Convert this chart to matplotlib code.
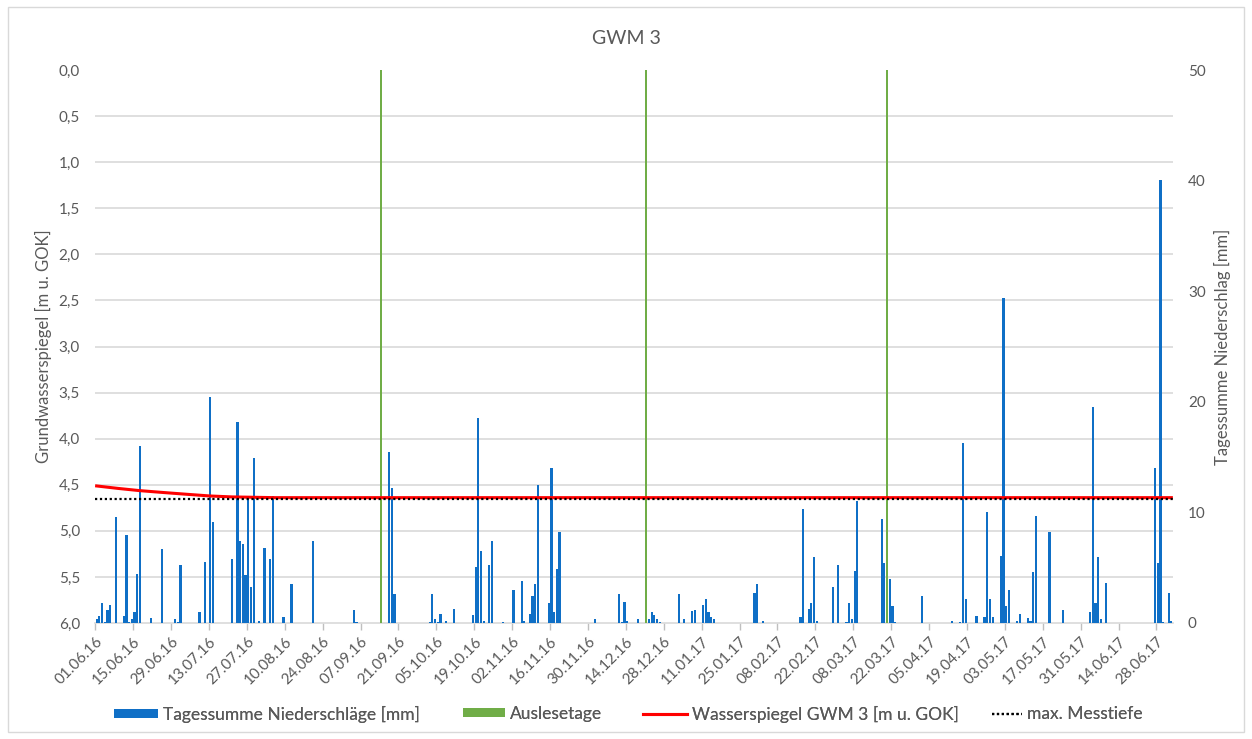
import numpy as np
import matplotlib
matplotlib.use("Agg")
import matplotlib.pyplot as plt
import matplotlib.dates as mdates
from matplotlib.ticker import FixedLocator, FuncFormatter
from matplotlib.patches import Rectangle
from matplotlib.lines import Line2D
from matplotlib.patches import Patch

plt.rcParams['font.family'] = ['Lato', 'DejaVu Sans']

start = np.datetime64('2016-06-01')
n_days = 398

# Daily precipitation: day offset from 01.06.16 and amount [mm]
rain_day = [0, 1, 2, 3, 4, 5, 7, 10, 11, 12, 13, 14, 15, 16, 20, 24, 29, 30, 31, 38,
            40, 42, 43, 50, 52, 53, 54, 55, 56, 57, 58, 60, 62, 64, 65, 69, 72, 80, 95, 96,
            108, 109, 110, 123, 124, 125, 126, 127, 129, 132, 139, 140, 141, 142, 143, 145, 146, 150, 154, 157,
            158, 160, 161, 162, 163, 167, 168, 169, 170, 171, 184, 193, 194, 195, 196, 200, 204, 205, 206, 207,
            208, 215, 217, 220, 221, 224, 225, 226, 227, 228, 243, 244, 246, 260, 261, 263, 264, 265, 266, 272,
            274, 277, 278, 279, 280, 281, 290, 291, 293, 294, 295, 305, 316, 319, 320, 321, 325, 328, 329, 330,
            331, 334, 335, 336, 337, 340, 341, 344, 345, 346, 347, 352, 357, 367, 368, 369, 370, 371, 373, 391,
            392, 393, 394, 396, 397]
rain_mm = [0.4, 0.6, 1.8, 0.1, 1.2, 1.6, 9.6, 0.6, 8.0, 0.1, 0.4, 1.0, 4.4, 16.0, 0.45, 6.7, 0.35, 0.1, 5.2, 1.0,
           5.5, 20.4, 9.1, 5.8, 18.2, 7.4, 7.1, 4.3, 11.5, 3.3, 14.9, 0.2, 6.8, 5.8, 11.5, 0.5, 3.5, 7.4, 1.2, 0.1,
           15.5, 12.2, 2.65, 0.1, 2.65, 0.4, 0.1, 0.8, 0.2, 1.3, 0.7, 5.1, 18.5, 6.5, 0.2, 5.2, 7.4, 0.1, 2.95, 3.8,
           0.2, 0.8, 2.4, 3.5, 12.45, 1.8, 14.0, 1.0, 4.85, 8.2, 0.4, 2.65, 0.1, 1.9, 0.2, 0.35, 0.4, 1.0, 0.7, 0.4,
           0.1, 2.6, 0.4, 1.1, 1.2, 1.6, 2.2, 1.0, 0.5, 0.35, 2.75, 3.5, 0.15, 0.5, 10.3, 1.3, 1.85, 6.0, 0.2, 3.25,
           5.25, 0.1, 1.85, 0.4, 4.7, 11.05, 9.4, 5.45, 3.95, 1.5, 0.1, 2.4, 0.2, 0.1, 16.25, 2.15, 0.6, 0.5, 10.0, 2.15,
           0.5, 6.05, 29.35, 1.55, 3.0, 0.2, 0.8, 0.45, 0.2, 4.6, 9.7, 8.2, 1.2, 1.0, 19.5, 1.8, 6.0, 0.35, 3.6, 14.05,
           5.45, 40.05, 0.1, 2.75, 0.15]

# Readout days (Auslesetage)
read_day = [105, 203, 292]
read_val = [50, 50, 50]

# Water level [m u. GOK]
level_day = [0, 8, 16, 25, 34, 42, 50, 58, 66, 397]
level_val = [4.513, 4.54, 4.564, 4.585, 4.605, 4.622, 4.632, 4.636, 4.64, 4.64]

# Maximum measuring depth
max_depth = 4.655

# Texts
title = "GWM 3"
left_label = "Grundwasserspiegel [m u. GOK]"
right_label = "Tagessumme Niederschlag [mm]"
legend_labels = ["Tagessumme Niederschläge [mm]", "Auslesetage",
                 "Wasserspiegel GWM 3 [m u. GOK]", "max. Messtiefe"]

TXT = '#595959'
BLUE = '#0F6FC6'
GREEN = '#70AD47'
RED = '#FF0000'
GRID = '#D9D9D9'
FS_TICK = 11
FS_LAB = 12
FS_LEG = 12.5
W, H = 1252, 739

def to_dt(d, off=0.0):
    return start + (np.asarray(d) * 24 * 3600 + off * 3600).astype('timedelta64[s]')

fig = plt.figure(figsize=(W / 100, H / 100), dpi=100)
fig.patches.append(Rectangle((8 / W, 1 - 732 / H), 1236 / W, 725 / H,
                             transform=fig.transFigure, fill=False,
                             edgecolor=GRID, linewidth=1.0))

L, R, T, B = 95.3, 1172.7, 70, 623
ax = fig.add_axes([L / W, 1 - B / H, (R - L) / W, (B - T) / H])
ax2 = ax.twinx()

# precipitation on host axis (drawn behind lines)
ax.bar(to_dt(rain_day, 12), rain_mm, width=0.8, color=BLUE, zorder=3)
ax.bar(to_dt(read_day, 12), read_val, width=0.8, color=GREEN, zorder=3)
ax.set_ylim(0, 50)
ax.yaxis.tick_right()
ax.yaxis.set_label_position('right')
ax.set_yticks([0, 10, 20, 30, 40, 50])
ax.yaxis.set_minor_locator(FixedLocator(np.linspace(0, 50, 13)))
ax.grid(which='minor', axis='y', color=GRID, linewidth=1.2, zorder=0)
ax.tick_params(axis='y', which='both', length=0, pad=11, labelsize=FS_TICK, labelcolor=TXT)
ax.set_ylabel(right_label, fontsize=FS_LAB, color=TXT, labelpad=6)

# water level on twin axis, shown on left
ax2.plot(to_dt(level_day, 12), level_val, color=RED, linewidth=2.2, zorder=4)
ax2.plot([to_dt(0), to_dt(n_days)], [max_depth, max_depth], color='black',
         linestyle=(0, (1, 1.2)), linewidth=1.6, zorder=5)
ax2.set_ylim(6, 0)
ax2.yaxis.tick_left()
ax2.yaxis.set_label_position('left')
ax2.set_yticks(np.arange(0, 6.01, 0.5))
ax2.yaxis.set_major_formatter(FuncFormatter(lambda v, p: f"{v:.1f}".replace('.', ',')))
ax2.tick_params(axis='y', length=0, pad=11, labelsize=FS_TICK, labelcolor=TXT)
ax2.set_ylabel(left_label, fontsize=FS_LAB, color=TXT, labelpad=5)

ax.set_xlim(to_dt(0), to_dt(n_days))
ticks = [to_dt(14 * k) for k in range(29)]
ax.set_xticks(ticks)
ax.xaxis.set_major_formatter(mdates.DateFormatter('%d.%m.%y'))
ax.tick_params(axis='x', direction='out', length=5, width=1, color='#BFBFBF',
               labelsize=FS_TICK, labelcolor=TXT, pad=3)
for lab in ax.get_xticklabels():
    lab.set_rotation(45)
    lab.set_ha('right')
    lab.set_va('top')
    lab.set_rotation_mode('anchor')

for a in (ax, ax2):
    for s in ('top', 'left', 'right'):
        a.spines[s].set_visible(False)
    a.spines['bottom'].set_color(GRID)
    a.spines['bottom'].set_linewidth(1.2)
ax2.spines['bottom'].set_visible(False)

fig.text(0.5, 1 - 38 / H, title, ha='center', va='center', fontsize=14, color=TXT)

# legend entries placed individually (x of handle start, handle length px)
handles = [Patch(facecolor=BLUE, edgecolor='none'),
           Patch(facecolor=GREEN, edgecolor='none'),
           Line2D([0], [0], color=RED, linewidth=2.2),
           Line2D([0], [0], color='black', linestyle=(0, (1, 1.2)), linewidth=1.6)]
leg_x = [114, 463, 643, 992]
leg_len = [44, 42, 44, 30]
fs_px = FS_LEG * 100 / 72
for h, lab, x0, ln in zip(handles, legend_labels, leg_x, leg_len):
    lg = fig.legend([h], [lab], loc='center left', bbox_to_anchor=(x0 / W, 1 - 714 / H),
                    frameon=False, fontsize=FS_LEG, labelcolor=TXT,
                    handlelength=ln / fs_px, handleheight=0.45, handletextpad=0.3,
                    borderpad=0, borderaxespad=0)
    fig.add_artist(lg)

fig.savefig('out.png', dpi=100)
